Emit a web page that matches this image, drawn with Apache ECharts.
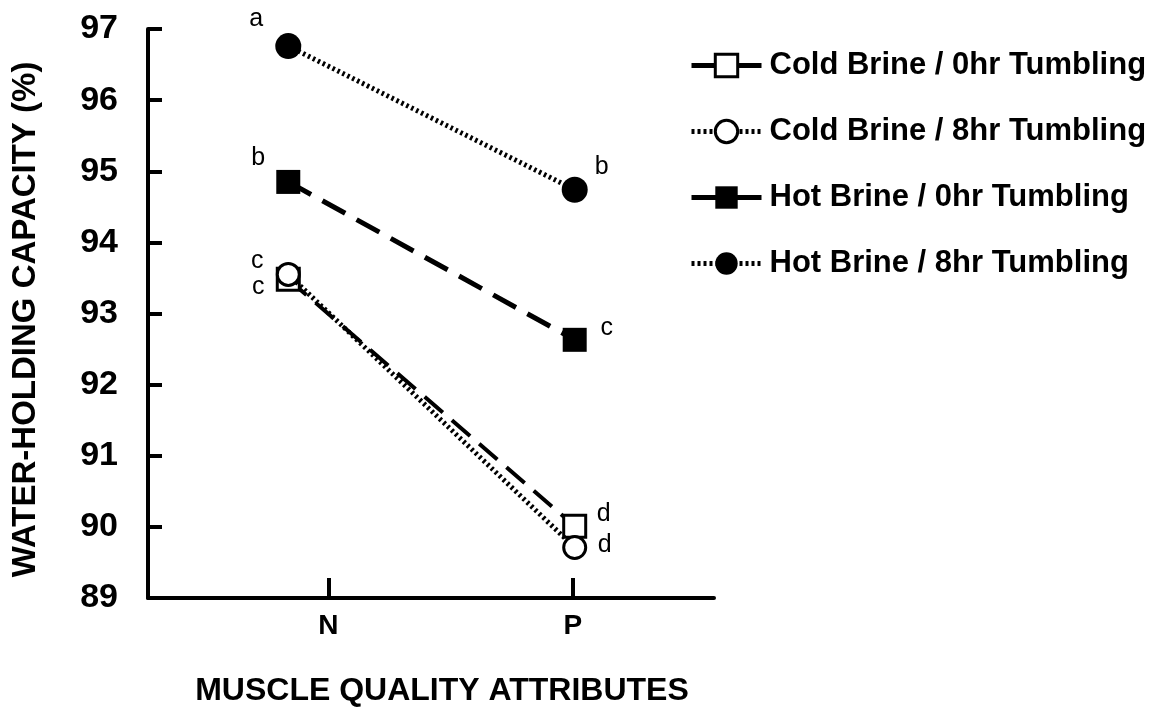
<!DOCTYPE html>
<html>
<head>
<meta charset="utf-8">
<script src="https://cdn.jsdelivr.net/npm/echarts@6/dist/echarts.min.js"></script>
<style>html,body{margin:0;padding:0;background:#fff}#c{width:1166px;height:712px}</style>
</head>
<body>
<div id="c"></div>
<script>
// ---- data ----
const categories = ['N', 'P'];
const tickValues = [1, 2];            // category tick positions on x
const markerX = [0.836, 2.008];       // where points sit (N points drawn left of tick in source)
const seriesNames = [
  'Cold Brine / 0hr Tumbling',
  'Cold Brine / 8hr Tumbling',
  'Hot Brine / 0hr Tumbling',
  'Hot Brine / 8hr Tumbling'
];
const cold0 = [93.48, 90.01];
const cold8 = [93.55, 89.71];
const hot0  = [94.85, 92.63];
const hot8  = [96.76, 94.74];
const cold0Letters = ['c', 'd'];
const cold8Letters = ['c', 'd'];
const hot0Letters  = ['b', 'c'];
const hot8Letters  = ['a', 'b'];
const yTicks = [89, 90, 91, 92, 93, 94, 95, 96, 97];

// ---- styling / layout ----
const F = 'Liberation Sans, Arial, Helvetica, sans-serif';
const labelOffsets = [
  [[-30, 8], [29, -12]],
  [[-31, -13], [30, -2]],
  [[-30, -24], [32, -12]],
  [[-32, -27], [27, -23]]
];
const styles = [
  {symbol: 'rect', size: 22, fill: '#fff', bw: 3, line: [24, 12], lw: 4, legendLine: 'solid'},
  {symbol: 'circle', size: 22, fill: '#fff', bw: 3, line: [2.5, 3], lw: 5, legendLine: [3, 3]},
  {symbol: 'rect', size: 24, fill: '#000', bw: 0, line: [26, 13], lw: 5, legendLine: 'solid'},
  {symbol: 'circle', size: 26, fill: '#000', bw: 0, line: [2.5, 3], lw: 5, legendLine: [3, 3]}
];
const values = [cold0, cold8, hot0, hot8];
const letters = [cold0Letters, cold8Letters, hot0Letters, hot8Letters];

const series = seriesNames.map((name, i) => ({
  name,
  type: 'line',
  symbol: styles[i].symbol,
  symbolSize: styles[i].size,
  itemStyle: {color: styles[i].fill, borderColor: '#000', borderWidth: styles[i].bw},
  lineStyle: {color: '#000', width: styles[i].lw, type: styles[i].line},
  z: 2 + i,
  data: values[i].map((v, j) => ({
    value: [markerX[j], v],
    label: {
      show: true, position: 'inside', formatter: letters[i][j],
      offset: labelOffsets[i][j], color: '#000',
      fontFamily: F, fontSize: 25, fontWeight: 'normal'
    }
  }))
}));

const chart = echarts.init(document.getElementById('c'), null, {renderer: 'canvas'});
chart.setOption({
  backgroundColor: '#fff',
  animation: false,
  grid: {left: 148, right: 452, top: 29, bottom: 104, containLabel: false},
  legend: {
    orient: 'vertical', left: 684, top: 45,
    itemWidth: 70, itemHeight: 28, itemGap: 35,
    data: seriesNames.map((n, i) => ({
      name: n,
      lineStyle: {width: 5, type: styles[i].legendLine, color: '#000'},
      itemStyle: {borderWidth: styles[i].bw, borderColor: '#000'}
    })),
    textStyle: {fontFamily: F, fontSize: 31, fontWeight: 'bold', color: '#000', lineHeight: 28, padding: [0, 0, 0, 3]},
    selectedMode: false
  },
  xAxis: {
    type: 'value', min: 0.262, max: 2.578,
    name: 'MUSCLE QUALITY ATTRIBUTES', nameLocation: 'middle', nameGap: 77,
    nameTextStyle: {fontFamily: F, fontSize: 32, fontWeight: 'bold', color: '#000', padding: [0, 0, 0, 22]},
    axisLine: {lineStyle: {color: '#000', width: 4}},
    axisTick: {show: true, inside: true, length: 20, lineStyle: {color: '#000', width: 4}, customValues: tickValues},
    axisLabel: {
      customValues: tickValues, margin: 14,
      formatter: v => categories[tickValues.indexOf(Math.round(v))] || '',
      fontFamily: F, fontSize: 28, fontWeight: 'bold', color: '#000'
    },
    splitLine: {show: false}
  },
  yAxis: {
    type: 'value', min: 89, max: 97, interval: 1,
    name: 'WATER-HOLDING CAPACITY (%)', nameLocation: 'middle', nameGap: 106, nameRotate: 90,
    nameTextStyle: {fontFamily: F, fontSize: 33, fontWeight: 'bold', color: '#000', padding: [0, 12, 0, 0]},
    axisLine: {show: true, lineStyle: {color: '#000', width: 4}},
    axisTick: {show: true, inside: true, length: 14, lineStyle: {color: '#000', width: 4}},
    axisLabel: {
      margin: 30, formatter: v => yTicks.includes(v) ? String(v) : '',
      fontFamily: F, fontSize: 34, fontWeight: 'bold', color: '#000'
    },
    splitLine: {show: false}
  },
  series
});
</script>
</body>
</html>
